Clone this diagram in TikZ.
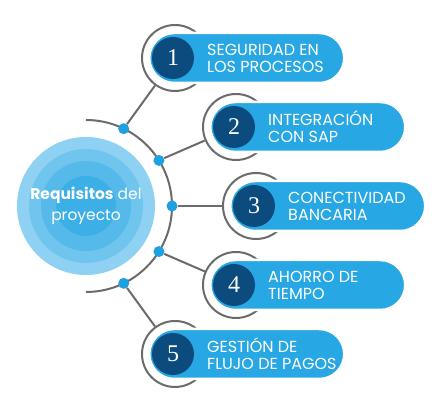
\documentclass[tikz,border=0pt]{standalone}
\usepackage{fontspec}
\setmainfont{Poppins}
\newfontfamily\numfont{Liberation Serif}
\definecolor{pillblue}{HTML}{27A7E3}
\definecolor{navy}{HTML}{0C4B7E}
\definecolor{linegray}{HTML}{6B6B6B}
\definecolor{dotblue}{HTML}{1FA0E0}
\definecolor{ringA}{HTML}{8ED1F2}
\definecolor{ringB}{HTML}{6FC5EE}
\definecolor{ringC}{HTML}{55BAEA}
\definecolor{ringD}{HTML}{3CAFE6}
\begin{document}
\begin{tikzpicture}[x=1pt,y=1pt,
    ring/.style={circle,draw=linegray,line width=2pt,fill=white,minimum size=66pt,inner sep=0pt},
    pill/.style={rectangle,rounded corners=25pt,fill=pillblue,draw=white,line width=2.5pt,
        minimum width=195pt,minimum height=50pt,anchor=west},
    num/.style={circle,fill=navy,minimum size=42pt,inner sep=0pt,text=white,
        font=\numfont\fontsize{24}{24}\selectfont},
    itemtext/.style={anchor=west,align=left,text=white,inner sep=0pt,
        font=\fontsize{16}{17}\selectfont},
    dot/.style={circle,fill=dotblue,minimum size=11pt,inner sep=0pt},
    conn/.style={draw=linegray,line width=2pt}]
    \useasboundingbox (0,0) rectangle (440,412);

    \node [circle,fill=ringA,minimum size=138pt] (core) at (86,206) {};
    \node [circle,fill=ringB,minimum size=114pt] at (core) {};
    \node [circle,fill=ringC,minimum size=90pt] at (core) {};
    \node [circle,fill=ringD,minimum size=60pt] at (core) {};
    \node [text=white,align=center,font=\fontsize{15.5}{21}\selectfont] (title) at (core)
        {\textbf{Requisitos} del\\proyecto};

    \draw [conn] (86,292) arc [start angle=90,end angle=-90,radius=86];

    \foreach \i/\a in {1/64,2/32,3/0,4/-32,5/-64}
        \node [dot] (d\i) at ([shift={(\a:86)}]core.center) {};

    \node [ring] (r1) at (175,354) {};
    \node [ring] (r2) at (236,285) {};
    \node [ring] (r3) at (256,206) {};
    \node [ring] (r4) at (236,127) {};
    \node [ring] (r5) at (175,58) {};

    \foreach \i in {1,...,5}
        \draw [conn] (d\i) -- (r\i);

    \node [pill] (p1) at (148,354) {};
    \node [pill] (p2) at (209,285) {};
    \node [pill] (p3) at (229,206) {};
    \node [pill] (p4) at (209,127) {};
    \node [pill] (p5) at (148,58) {};

    \node [num] (n1) at (173,354) {1};
    \node [num] (n2) at (234,285) {2};
    \node [num] (n3) at (254,206) {3};
    \node [num] (n4) at (234,127) {4};
    \node [num] (n5) at (173,58) {5};

    \node [itemtext] (t1) at (207,354) {SEGURIDAD EN\\LOS PROCESOS};
    \node [itemtext] (t2) at (268,285) {INTEGRACIÓN\\CON SAP};
    \node [itemtext] (t3) at (288,206) {CONECTIVIDAD\\BANCARIA};
    \node [itemtext] (t4) at (268,127) {AHORRO DE\\TIEMPO};
    \node [itemtext] (t5) at (207,58) {GESTIÓN DE\\FLUJO DE PAGOS};
\end{tikzpicture}
\end{document}
